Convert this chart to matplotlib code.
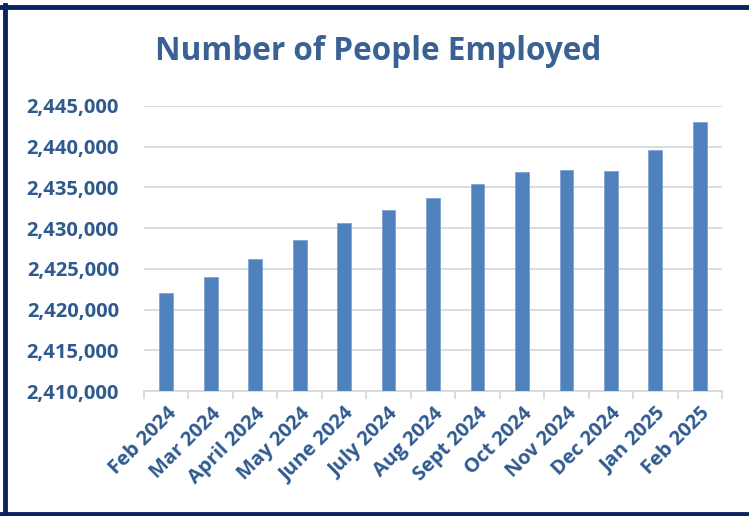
import matplotlib
matplotlib.use("Agg")
import matplotlib.pyplot as plt
from matplotlib.ticker import FuncFormatter

months = ["Feb 2024", "Mar 2024", "April 2024", "May 2024", "June 2024", "July 2024",
          "Aug 2024", "Sept 2024", "Oct 2024", "Nov 2024", "Dec 2024", "Jan 2025", "Feb 2025"]
employed = [2422000, 2424000, 2426150, 2428500, 2430570, 2432170,
            2433700, 2435430, 2436900, 2437100, 2436950, 2439560, 2443000]
y_ticks = [2410000, 2415000, 2420000, 2425000, 2430000, 2435000, 2440000, 2445000]

text_col = "#2F5A8F"
bar_col = "#4F81BD"
grid_col = "#D9D9D9"

plt.rcParams["font.family"] = ["Open Sans", "DejaVu Sans"]

fig = plt.figure(figsize=(7.49, 5.16), dpi=100)
ax = fig.add_axes([0.1923, 0.2422, 0.7717, 0.5528])

x = range(len(months))
ax.bar(x, employed, width=0.31, color=bar_col, edgecolor="#7FA3D1", linewidth=0.6, zorder=3)

ax.set_ylim(y_ticks[0], y_ticks[-1])
ax.set_xlim(-0.5, len(months) - 0.5)
ax.set_yticks(y_ticks)
ax.yaxis.set_major_formatter(FuncFormatter(lambda v, p: f"{int(v):,}"))
ax.grid(axis="y", color=grid_col, linewidth=1.3, zorder=0)

# ticks between categories, labels at the category centres
ax.set_xticks([i - 0.5 for i in range(len(months) + 1)], minor=False)
ax.set_xticklabels([])
ax.set_xticks(list(x), minor=True)
ax.set_xticklabels(months, minor=True, rotation=45, ha="right", rotation_mode="anchor",
                   fontsize=14.5, fontweight="bold", color=text_col)
ax.tick_params(axis="x", which="major", length=6, color=grid_col, width=1.3)
ax.tick_params(axis="x", which="minor", length=0, pad=9)
ax.tick_params(axis="y", length=0, pad=18, labelsize=14.5, labelcolor=text_col)
for lab in ax.get_yticklabels():
    lab.set_fontweight("bold")

for s in ["top", "right", "left"]:
    ax.spines[s].set_visible(False)
ax.spines["bottom"].set_color(grid_col)
ax.spines["bottom"].set_linewidth(1.3)

fig.text(0.505, 0.9, "Number of People Employed", ha="center", va="center",
         fontsize=22.7, fontweight="bold", color="#3A6193")

# dark frame (left, top, bottom)
frame = "#0B2461"
fig.add_artist(plt.Line2D([0.0067, 0.0067], [0.0, 0.99], transform=fig.transFigure,
                          color=frame, linewidth=3.5))
fig.add_artist(plt.Line2D([0.0, 1.0], [0.986, 0.986], transform=fig.transFigure,
                          color=frame, linewidth=3.5))
fig.add_artist(plt.Line2D([0.0, 1.0], [0.003, 0.003], transform=fig.transFigure,
                          color=frame, linewidth=3.5))

fig.savefig("out.png", dpi=100)
